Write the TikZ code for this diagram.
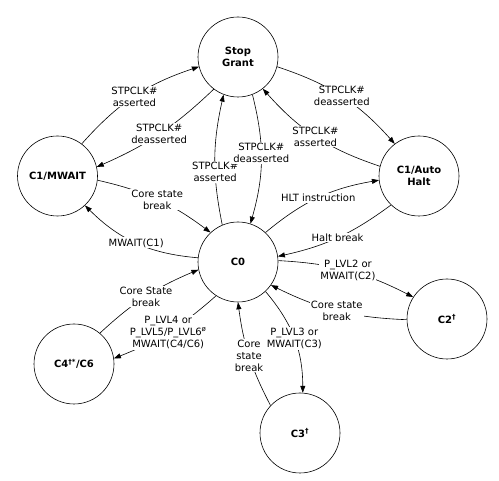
\documentclass[tikz,border=0pt]{standalone}
\usepackage{fontspec}
\setmainfont{DejaVu Sans}
\usepackage{tikz}
\usetikzlibrary{arrows.meta}

\begin{document}
\begin{tikzpicture}[
  x=1pt, y=-1pt,
  font=\fontsize{10}{12}\selectfont,
  state/.style={draw, circle, line width=0.6pt, minimum size=80pt, inner sep=0pt, align=center, font=\fontsize{10}{12}\selectfont\bfseries},
  lbl/.style={fill=white, inner sep=1pt, align=center},
  trans/.style={-{Triangle[length=7pt,width=5pt]}, line width=0.6pt}
]
\useasboundingbox (0,0) rectangle (499,481);

\node[state] (stopgrant) at (238,57) {Stop\\Grant};
\node[state] (mwait) at (57.5,176) {C1/MWAIT};
\node[state] (autohalt) at (419,176) {C1/Auto\\Halt};
\node[state] (czero) at (238,262) {C0};
\node[state] (ctwo) at (447,319) {C2\textsuperscript{†}};
\node[state] (cthree) at (300,433) {C3\textsuperscript{†}};
\node[state] (cfour) at (74,364) {C4\textsuperscript{†*}/C6};

% Stop Grant and C1/MWAIT
\draw[trans] (mwait.53) to[bend left=15] node[lbl]{STPCLK\#\\asserted} (stopgrant.194);
\draw[trans] (stopgrant.233) to[bend left=10] node[lbl]{STPCLK\#\\deasserted} (mwait.13);

% C1/MWAIT and C0
\draw[trans] (mwait.354) to[bend left=12] node[lbl]{Core state\\break} (czero.133);
\draw[trans] (czero.174) to[bend left=20] node[lbl]{MWAIT(C1)} (mwait.313);

% C0 and Stop Grant
\draw[trans] (czero.113) to[bend left=12] node[lbl, pos=0.4]{STPCLK\#\\asserted} (stopgrant.249);
\draw[trans] (stopgrant.291) to[bend left=15] node[lbl, pos=0.45]{STPCLK\#\\deasserted} (czero.72);

% Stop Grant and C1/Auto Halt
\draw[trans] (stopgrant.346) to[bend left=15] node[lbl]{STPCLK\#\\deasserted} (autohalt.127);
\draw[trans] (autohalt.166) to[bend left=15] node[lbl]{STPCLK\#\\asserted} (stopgrant.308);

% C0 and C1/Auto Halt
\draw[trans] (czero.47) to[bend left=15] node[lbl]{HLT instruction} (autohalt.186);
\draw[trans] (autohalt.226) to[bend left=12] node[lbl]{Halt break} (czero.8);

% C0 and C2
\draw[trans] (czero.2) to[bend left=12] node[lbl]{P\_LVL2 or\\MWAIT(C2)} (ctwo.147);
\draw[trans] (ctwo.181) to[bend left=12] node[lbl]{Core state\\break} (czero.325);

% C0 and C3
\draw[trans] (czero.313) to[bend left=20] node[lbl]{P\_LVL3 or\\MWAIT(C3)} (cthree.86);
\draw[trans] (cthree.137) to[bend left=10] node[lbl]{Core\\state\\break} (czero.270);

% C0 and C4/C6
\draw[trans] (cfour.50) to[bend left=10] node[lbl]{Core State\\break} (czero.191);
\draw[trans] (czero.237) to[bend left=10] node[lbl]{P\_LVL4 or\\P\_LVL5/P\_LVL6\textsuperscript{ø}\\MWAIT(C4/C6)} (cfour.8);

\end{tikzpicture}
\end{document}
